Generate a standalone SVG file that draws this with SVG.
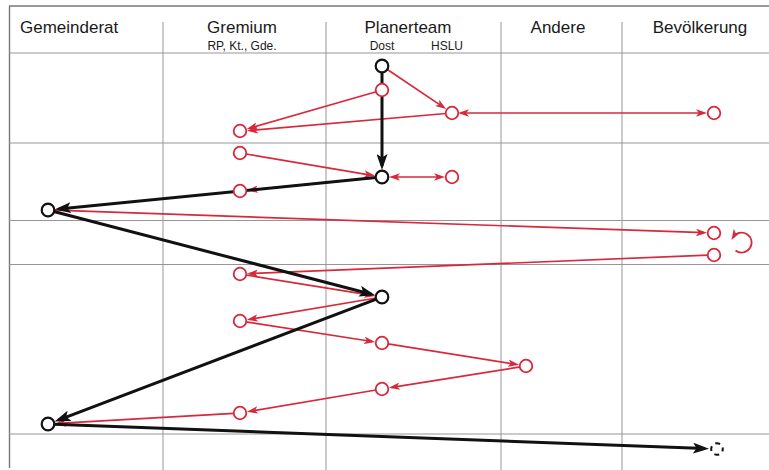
<svg xmlns="http://www.w3.org/2000/svg" width="769" height="470" viewBox="0 0 769 470">
<style>
.grid{stroke:#9a949a;stroke-width:1;fill:none}
.frame{stroke:#777;stroke-width:1.4;fill:none}
.h{font-family:"Liberation Sans",Arial,sans-serif;font-size:17px;fill:#1a1a1a}
.s{font-family:"Liberation Sans",Arial,sans-serif;font-size:12px;fill:#1a1a1a}
.blk{stroke:#111;stroke-width:3;fill:none;marker-end:url(#ab)}
.red{stroke:#d8283c;stroke-width:1.7;fill:none;marker-end:url(#ar)}
.both{marker-start:url(#ars)}
.nb{fill:#fff;stroke:#111;stroke-width:2.2}
.nr{fill:#fff;stroke:#d8283c;stroke-width:1.8}
</style>
<defs>
<marker id="ab" viewBox="0 0 16 11" refX="12" refY="5.5" markerWidth="16" markerHeight="11" markerUnits="userSpaceOnUse" orient="auto">
<path d="M0,0 L16,5.5 L0,11 L3.5,5.5 z" fill="#111"/>
</marker>
<marker id="ar" viewBox="0 0 11 7.5" refX="8" refY="3.75" markerWidth="11" markerHeight="7.5" markerUnits="userSpaceOnUse" orient="auto">
<path d="M0,0 L11,3.75 L0,7.5 L2.8,3.75 z" fill="#d8283c"/>
</marker>
<marker id="ars" viewBox="0 0 11 7.5" refX="3" refY="3.75" markerWidth="11" markerHeight="7.5" markerUnits="userSpaceOnUse" orient="auto">
<path d="M11,0 L0,3.75 L11,7.5 L8.2,3.75 z" fill="#d8283c"/>
</marker>
</defs>
<rect width="769" height="470" fill="#fff"/>
<g id="grid">
<line class="frame" x1="9" y1="6" x2="769" y2="6"/>
<line class="frame" x1="9.5" y1="6" x2="9.5" y2="468"/>
<line class="grid" x1="9" y1="53" x2="769" y2="53"/>
<line class="grid" x1="9" y1="143" x2="769" y2="143"/>
<line class="grid" x1="9" y1="220.5" x2="769" y2="220.5"/>
<line class="grid" x1="9" y1="264.5" x2="769" y2="264.5"/>
<line class="grid" x1="9" y1="434" x2="769" y2="434"/>
<line class="grid" x1="163" y1="22" x2="163" y2="470"/>
<line class="grid" x1="326" y1="22" x2="326" y2="470"/>
<line class="grid" x1="501" y1="22" x2="501" y2="470"/>
<line class="grid" x1="622" y1="22" x2="622" y2="470"/>
</g>
<g id="headers">
<text class="h" x="20" y="33">Gemeinderat</text>
<text class="h" x="242" y="33" text-anchor="middle">Gremium</text>
<text class="s" x="242" y="50" text-anchor="middle">RP, Kt., Gde.</text>
<text class="h" x="408" y="33" text-anchor="middle">Planerteam</text>
<text class="s" x="382" y="50" text-anchor="middle">Dost</text>
<text class="s" x="447" y="50" text-anchor="middle">HSLU</text>
<text class="h" x="558" y="33" text-anchor="middle">Andere</text>
<text class="h" x="700" y="33" text-anchor="middle">Bevölkerung</text>
</g>
<g id="connectors">
<line class="red" x1="387" y1="69.3" x2="443.7" y2="107.4"/>
<line class="red" x1="376.2" y1="91.7" x2="249.6" y2="128.2"/>
<line class="red" x1="446" y1="113.5" x2="250" y2="130.4"/>
<line class="red both" x1="461" y1="113" x2="704" y2="113"/>
<line class="red" x1="245.9" y1="154" x2="372.1" y2="175.3"/>
<line class="red both" x1="392" y1="177" x2="442" y2="177"/>
<line class="red" x1="376" y1="177.6" x2="250" y2="190"/>
<line class="red" x1="54" y1="210.2" x2="704" y2="232.7"/>
<line class="red" x1="708" y1="255.2" x2="250" y2="273.6"/>
<path class="red" d="M735.5,250.5 A10 10 0 1 0 733,237.5"/>
<line class="red" x1="245.9" y1="275" x2="372.1" y2="295.4"/>
<line class="red" x1="376.1" y1="298" x2="249.9" y2="319.3"/>
<line class="red" x1="245.9" y1="321.9" x2="372.1" y2="341.5"/>
<line class="red" x1="387.9" y1="343.9" x2="516.1" y2="364.4"/>
<line class="red" x1="520.1" y1="366.9" x2="391.9" y2="387.4"/>
<line class="red" x1="376.1" y1="390" x2="249.9" y2="411.3"/>
<line class="red" x1="234" y1="413.3" x2="58" y2="423.4"/>
<line class="blk" x1="382" y1="72" x2="382" y2="166"/>
<line class="blk" x1="376" y1="177.6" x2="58.9" y2="208.9"/>
<line class="blk" x1="53.8" y1="211.5" x2="371.4" y2="294.2"/>
<line class="blk" x1="376.4" y1="299.1" x2="58.3" y2="420.1"/>
<line class="blk" x1="54" y1="424.2" x2="705" y2="448.6"/>
</g>
<g id="n-a"><circle class="nb" cx="382" cy="66" r="6.3"/></g>
<g id="n-r1"><circle class="nr" cx="382" cy="90" r="6.3"/></g>
<g id="n-r2"><circle class="nr" cx="452" cy="113" r="6.3"/></g>
<g id="n-r3"><circle class="nr" cx="714" cy="113" r="6.3"/></g>
<g id="n-r4"><circle class="nr" cx="240" cy="131" r="6.3"/></g>
<g id="n-r5"><circle class="nr" cx="240" cy="153" r="6.3"/></g>
<g id="n-b"><circle class="nb" cx="382" cy="177" r="6.3"/></g>
<g id="n-r6"><circle class="nr" cx="452" cy="177" r="6.3"/></g>
<g id="n-r7"><circle class="nr" cx="240" cy="191" r="6.3"/></g>
<g id="n-c"><circle class="nb" cx="48" cy="210" r="6.3"/></g>
<g id="n-r8"><circle class="nr" cx="714" cy="233" r="6.3"/></g>
<g id="n-r9"><circle class="nr" cx="714" cy="255" r="6.3"/></g>
<g id="n-r10"><circle class="nr" cx="240" cy="274" r="6.3"/></g>
<g id="n-d"><circle class="nb" cx="382" cy="297" r="6.3"/></g>
<g id="n-r11"><circle class="nr" cx="240" cy="321" r="6.3"/></g>
<g id="n-r12"><circle class="nr" cx="382" cy="343" r="6.3"/></g>
<g id="n-r13"><circle class="nr" cx="526" cy="366" r="6.3"/></g>
<g id="n-r14"><circle class="nr" cx="382" cy="389" r="6.3"/></g>
<g id="n-r15"><circle class="nr" cx="240" cy="413" r="6.3"/></g>
<g id="n-e"><circle class="nb" cx="48" cy="424" r="6.3"/></g>
<g id="n-f"><circle cx="717" cy="449" r="5.8" fill="#fff" stroke="#111" stroke-width="2" stroke-dasharray="5 4.1" stroke-dashoffset="2.5"/></g>
</svg>
